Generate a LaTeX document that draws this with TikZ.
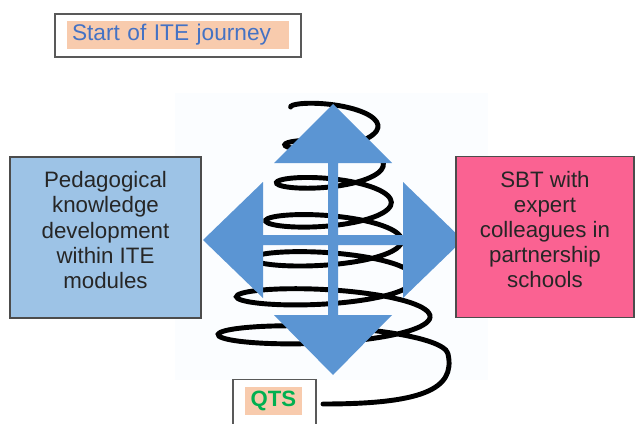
\documentclass[tikz,border=0pt]{standalone}
\usepackage{tikz}
\usepackage{xcolor}
\usepackage{fontspec}
\setmainfont{Liberation Sans}
\definecolor{itepeach}{RGB}{248,203,173}
\definecolor{iteblue}{RGB}{68,114,196}
\definecolor{modblue}{RGB}{157,195,230}
\definecolor{sbtpink}{RGB}{250,98,146}
\definecolor{hubblue}{RGB}{91,149,211}
\definecolor{qtsgreen}{RGB}{0,176,80}
\definecolor{haze}{RGB}{251,253,255}

\begin{document}
\begin{tikzpicture}[x=0.02cm, y=-0.02cm,
    every node/.style={font=\fontsize{12.7}{14.3}\selectfont, text=black!85},
    framebox/.style={draw=gray!70!black, line width=0.8pt},
    tagbox/.style={fill=itepeach, inner xsep=0.1cm, inner ysep=0pt, minimum height=0.56cm},
    sidebox/.style={draw=gray!60!black, line width=0.6pt, minimum height=3.22cm, align=center, text depth=0.3cm}]
    \useasboundingbox (0,0) rectangle (636,423);

    % faint backdrop behind the spring
    \fill[haze] (175,93) rectangle (488,380);

    % start and end of the journey
    \node[framebox, minimum width=4.92cm, minimum height=0.86cm] (startbox) at (178,35.5) {};
    \node[tagbox, text width=4.24cm, align=left, font=\fontsize{12.9}{14}\selectfont, text=iteblue] (start) at (178,35) {Start of ITE journey};
    \node[framebox, line width=0.6pt, minimum width=1.66cm, minimum height=1.1cm] (qtsbox) at (274.5,407) {};
    \node[tagbox, minimum width=1.14cm, font=\fontsize{12.6}{14}\selectfont\bfseries, text=qtsgreen] (qts) at (273.5,401) {QTS};
    \coordinate (tailend) at (323,404);

    % the spring
    \draw[line width=2.8pt, line cap=round]
        plot[domain=-180:2160, samples=240, smooth, variable=\t]
        ({333-5*(\t/2160)+(45+30*(\t/2160)+45*(\t/2160)^2)*cos(\t)}, {126+228*(\t/2160)+(12+6*(\t/2160))*sin(\t)})
        .. controls (456,390) and (420,404) .. (tailend);

    % four-way arrow
    \fill[hubblue, shift={(333,240)}]
        (0,-136) -- (59,-77) -- (5,-77) -- (5,-5) -- (70,-5) -- (70,-58) -- (130,0)
        -- (70,58) -- (70,5) -- (5,5) -- (5,75) -- (59,75) -- (0,135) -- (-59,75)
        -- (-5,75) -- (-5,5) -- (-70,5) -- (-70,58) -- (-130,0) -- (-70,-58)
        -- (-70,-5) -- (-5,-5) -- (-5,-77) -- (-59,-77) -- cycle;

    % the two strands
    \node[sidebox, fill=modblue, minimum width=3.82cm] (ped) at (105.5,237.5)
        {Pedagogical\\knowledge\\development\\within ITE\\modules};
    \node[sidebox, fill=sbtpink, minimum width=3.56cm, draw=black!70] (sbt) at (545,237)
        {SBT with\\expert\\colleagues in\\partnership\\schools};
\end{tikzpicture}
\end{document}
